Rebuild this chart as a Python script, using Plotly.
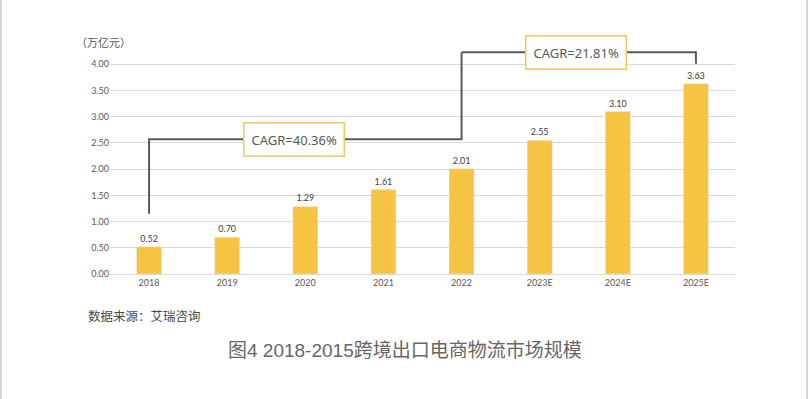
import plotly.graph_objects as go

categories = ["2018", "2019", "2020", "2021", "2022", "2023E", "2024E", "2025E"]
values = [0.52, 0.70, 1.29, 1.61, 2.01, 2.55, 3.10, 3.63]
y_ticks = [0, 0.5, 1.0, 1.5, 2.0, 2.5, 3.0, 3.5, 4.0]
unit_label = "（万亿元）"
cagr_labels = ["CAGR=40.36%", "CAGR=21.81%"]
source_text = "数据来源：艾瑞咨询"
title_text = "图4 2018-2015跨境出口电商物流市场规模"

BAR = "#F6C343"
LINE = "#5A5A5A"
TXT = "#595959"
FONT = "Noto Sans CJK SC"
TITLE_FONT = "Liberation Sans, Noto Sans CJK SC"

W, H = 809, 399
pl, pr, pt, pb = 110, 74, 46, 125
pw, ph = W - pl - pr, H - pt - pb
def px(x): return (x - pl) / pw
def py(y): return (H - pb - y) / ph

fig = go.Figure()
fig.add_trace(go.Bar(
    x=categories, y=values, marker_color=BAR, width=0.32,
    text=[f"{v:.2f}" for v in values], textposition="outside",
    textfont=dict(size=9, color="#404040", family="Lato"),
    cliponaxis=False, showlegend=False,
))

# bracket lines
fig.add_trace(go.Scatter(
    x=[categories[0], categories[0], categories[4], categories[4]],
    y=[1.15, 2.57, 2.57, 4.23],
    mode="lines", line=dict(color=LINE, width=2), showlegend=False, hoverinfo="skip",
))
fig.add_trace(go.Scatter(
    x=[categories[4], categories[7], categories[7]],
    y=[4.23, 4.23, 4.01],
    mode="lines", line=dict(color=LINE, width=2), showlegend=False, hoverinfo="skip",
))

fig.add_annotation(x=1.86, y=2.57, xref="x", yref="y", text=cagr_labels[0], showarrow=False,
                   font=dict(size=13, color=TXT, family="Noto Sans"), bgcolor="white",
                   bordercolor="#F6C85A", borderwidth=1.5, borderpad=7)
fig.add_annotation(x=5.47, y=4.23, xref="x", yref="y", text=cagr_labels[1], showarrow=False,
                   font=dict(size=13, color=TXT, family="Noto Sans"), bgcolor="white",
                   bordercolor="#F6C85A", borderwidth=1.5, borderpad=7)

fig.add_annotation(x=px(74), y=py(42), xref="paper", yref="paper", text=unit_label, showarrow=False,
                   font=dict(size=11, color=TXT, family=FONT), xanchor="left", yanchor="middle")
fig.add_annotation(x=px(86), y=py(315), xref="paper", yref="paper", text=source_text, showarrow=False,
                   font=dict(size=12.5, color="#4a4a4a", family=FONT), xanchor="left", yanchor="middle")
fig.add_annotation(x=px(405), y=py(350), xref="paper", yref="paper", text=title_text, showarrow=False,
                   font=dict(size=19, color="#666666", family=TITLE_FONT), xanchor="center", yanchor="middle")

fig.update_layout(
    width=W, height=H,
    margin=dict(l=pl, r=pr, t=pt, b=pb),
    paper_bgcolor="white", plot_bgcolor="white",
    font=dict(family=FONT, color=TXT),
    xaxis=dict(type="category", showgrid=False, showline=True, linecolor="#D9D9D9", linewidth=1,
               ticks="", tickfont=dict(size=9, color=TXT, family="Lato")),
    yaxis=dict(range=[0, 4.35], tickvals=y_ticks, tickformat=".2f", showgrid=True,
               gridcolor="#D9D9D9", gridwidth=1, zeroline=False, showline=False,
               ticks="", tickfont=dict(size=9, color=TXT, family="Lato")),
)

# outer frame side lines
for xv in [1, 807]:
    fig.add_shape(type="line", xref="paper", yref="paper", x0=px(xv), x1=px(xv), y0=py(0), y1=py(399),
                  line=dict(color="#C8C8C8", width=1.5))

fig.write_html("out.html", config={"displayModeBar": False},
               post_script="document.body.style.margin='0';document.body.style.overflow='hidden';")
